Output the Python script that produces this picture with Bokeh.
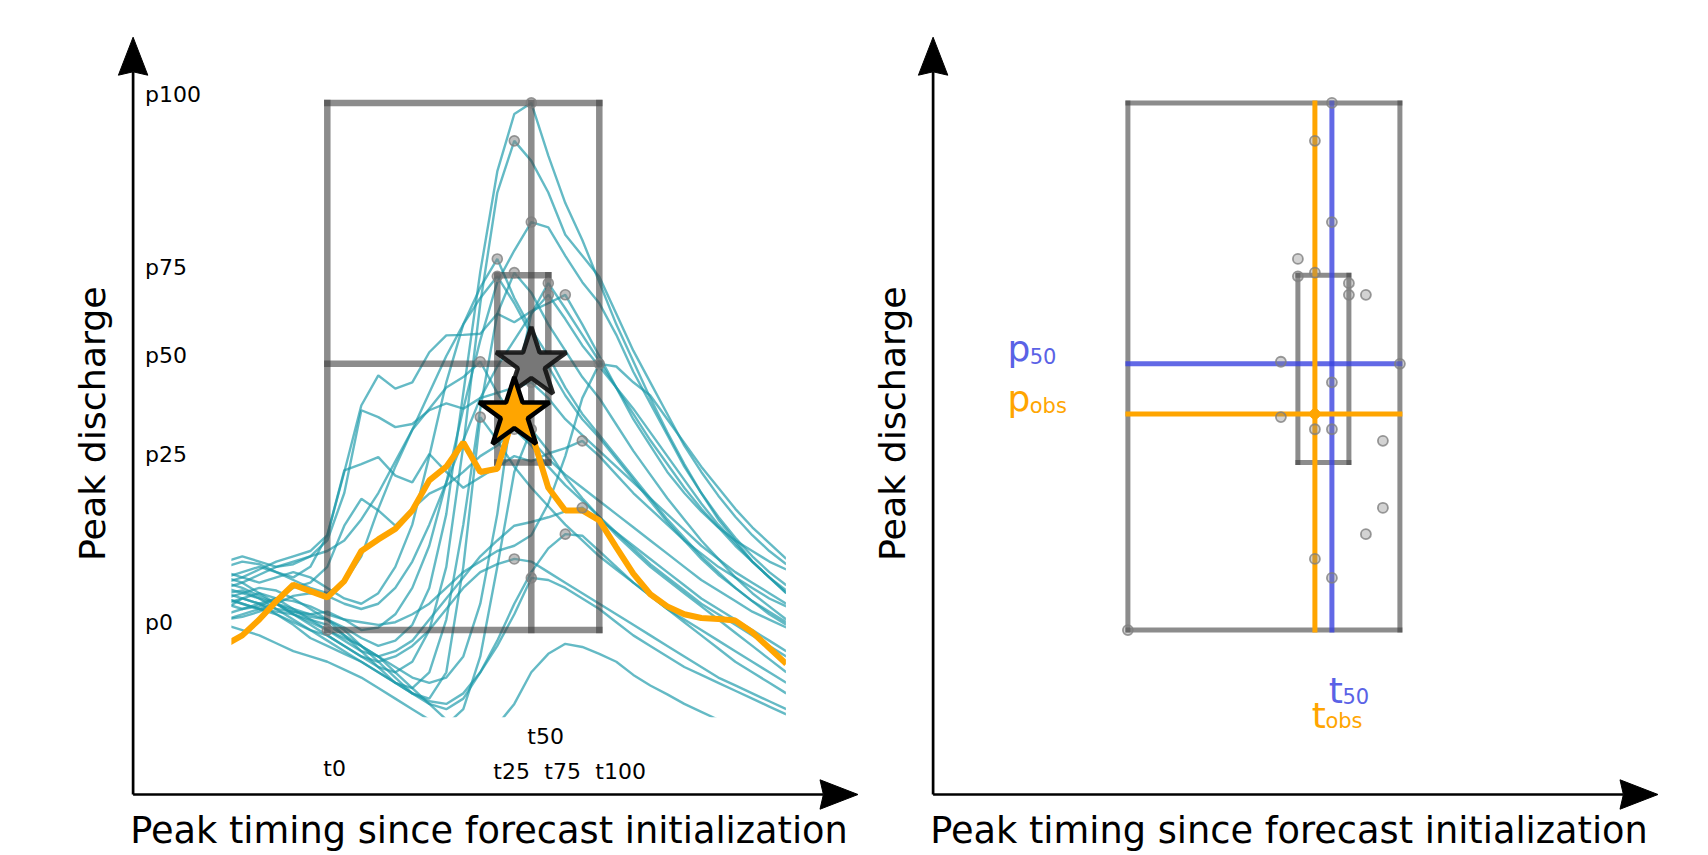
import numpy as np
from bokeh.plotting import figure
from bokeh.layouts import row
from bokeh.models import Range1d
from bokeh.core.properties import value
from bokeh.embed import file_html
from bokeh.resources import INLINE

# ---------------- data ----------------
steps = list(range(-6, 28))  # time steps relative to forecast initialization

m01 = [9, 8, 6.5, 5, 3.5, 2.5, 2, 0.5, -1.5, -3, -2, 1, 8, 22, 45, 68, 87,
       97.9, 100, 90, 81, 74, 66, 58, 51, 44, 37.5, 31.5, 26, 21.5, 17.5, 14, 11, 8.5]
m02 = [7, 7.5, 6, 4, 2, 0, -1, -3, -5, -7, -8, -6, 0, 12, 35, 62, 83,
       92.8, 89, 83, 75, 71, 67, 60, 53, 47, 41, 35, 30, 25.5, 21.5, 18, 15, 12.5]
m03 = [5, 6, 7, 6, 4, 3, 3.5, 2, 0, 0.5, 3, 8, 16, 28, 42, 55, 66,
       72, 77.4, 76.4, 71, 66, 62, 56, 49, 43, 37, 31, 26, 21, 17, 13, 10, 7]
m04 = [11, 10, 9, 10, 11, 10, 8, 6, 5, 7, 12, 20, 33, 47, 58, 65, 70.4,
       63, 57, 52, 46, 41, 37, 33, 29, 25, 21, 17.5, 14, 11, 8, 5.5, 3, 1]
m05 = [4, 6, 5, 3, 1, -1.5, -3, -4.5, -6, -8, -10, -11, -8, 2, 20, 42, 60,
       67.8, 64, 58, 53, 48, 44, 39, 34, 29.5, 25, 21, 17, 13.5, 10, 7, 4.5, 2]
m06 = [8, 9, 10.5, 12, 13, 14, 15, 17, 21, 26, 32, 38, 45, 52, 58, 63, 67.1,
       62, 56, 50, 44.5, 40, 36.5, 32.5, 28.5, 24.5, 20.5, 17, 13.5, 10.5, 8, 5.5, 3.5, 1.5]
m07 = [6, 5, 4, 3.5, 3, 2, 1, -1, -3, -5, -7, -9, -10, -9, -5, 5, 22,
       45, 60, 65.8, 61, 56, 51, 46, 41, 36, 31.5, 27, 23, 19.5, 16, 13, 10, 7.5]
m08 = [2, 2.5, 3.5, 5, 6.5, 7, 6.5, 5, 4, 5, 8, 13, 20, 28, 36, 44, 50,
       55, 60, 63.6, 59, 54, 50, 46, 42, 37.5, 33, 28.5, 24, 20, 16.5, 13, 10, 7]
m09 = [12, 13, 12.5, 11, 10, 12, 18, 30, 42.6, 48.3, 45.8, 47, 52.7, 55.9, 56, 56.2, 60,
       58.4, 60.5, 62, 63.6, 58, 52, 46, 40, 35, 30, 26, 22.5, 19.5, 17, 15, 13, 11.5]
m10 = [10, 11, 12, 11, 9.5, 8, 7, 9, 14, 23, 31, 38, 42, 46, 48, 50.9, 45,
       40, 36, 32.5, 29.5, 27, 24.5, 22, 19.5, 17, 14.5, 12, 9.5, 7.5, 5.5, 3.5, 2, 0.5]
m11 = [3, 4, 5, 6, 5.5, 4.5, 3, 2, 1.5, 1, 1.5, 3, 5, 8, 11, 13, 15,
       16, 18, 24, 33, 44, 50.5, 50, 47, 44.5, 40, 35.5, 31, 27, 23, 19.5, 16.5, 13.5]
m12 = [13, 14, 13, 12, 12.5, 14, 17, 26, 41.7, 40.4, 38.5, 39.1, 41.7, 43, 42, 44, 45,
       46, 47, 44, 40, 37, 34, 31, 28, 25, 22, 19, 16, 13.5, 11, 9, 7, 5]
m13 = [6, 7, 8, 7.5, 6, 4, 2, -1, -4, -7, -10, -12, -13, -8, 12, 40.4, 36,
       31, 27, 23.5, 20, 17, 14, 11.5, 9, 6.5, 4, 2, 0, -2, -4, -6, -8, -10]
m14 = [5, 4, 4.5, 6, 8, 9, 12, 19.8, 24.9, 22.7, 19.8, 23, 25.9, 27.4, 30, 33, 35,
       38.1, 35, 31, 27.5, 24.5, 21.5, 18, 15, 12, 9.5, 7, 4.5, 2, -0.5, -3, -5.5, -8]
m15 = [1, 0, -1, -2.5, -4, -5, -6, -7.5, -9, -11, -13, -15, -17, -18, -15, -5, 12,
       30, 38.1, 34, 29, 25, 21.5, 18.5, 15.5, 12.5, 10, 7.5, 5, 3, 1, -1, -3, -5]
m16 = [9, 10, 11.5, 13, 14, 15, 18, 30.3, 31.5, 32.8, 29.3, 28, 33.4, 30, 27, 29, 31,
       33, 32, 33.5, 34.5, 35.9, 33, 29.5, 26, 23, 20, 17, 14.5, 12, 10, 8, 6, 4.5]
m17 = [2, 3, 4, 5, 4, 2, 0, -2, -4, -5, -4, -2, 2, 6, 10, 14, 17,
       19.8, 20.5, 21.4, 22.5, 23.2, 21, 18.5, 16, 13.5, 11, 8.5, 6, 4, 2, 0, -2, -4]
m18 = [7, 6, 5, 4, 3.5, 3, 2, 0, -3, -6, -9, -12, -14, -15, -13, -8, -2,
       5, 11, 15.5, 18.2, 17.9, 15, 12, 9, 6.5, 4, 1.5, -1, -3.5, -6, -8, -10, -12]
m19 = [10, 9, 7, 5, 3, 1, -1, -3, -5, -6, -5, -3, 0, 4, 8, 11, 12.5,
       13.5, 13, 11, 9, 7, 5, 3, 1, -1, -3, -5, -7, -9, -10.5, -12, -13.5, -15]
m20 = [6, 5, 4, 3, 1.5, 0, -2, -4, -6, -8, -10, -12, -13.5, -14, -12, -8, -3,
       3, 9.9, 9.5, 8, 6, 4, 1.5, -1, -3, -5, -7, -8.5, -10, -11.5, -13, -14.5, -16]
m21 = [8, 7, 6, 5, 3, 1.5, 0, -1.5, -3, -5, -8, -11, -14, -17, -19, -20, -18,
       -14, -8, -4.5, -2.6, -3.2, -4.5, -6, -8.5, -10.5, -12.2, -14, -15.5, -17, -18.5, -20, -21, -22]

observed = [-2.8, -1, 2, 5.5, 8.6, 7.4, 6.2, 9.3, 15, 17.2, 19.2, 22.7, 28.4, 31, 35.6, 30, 30.6,
            41, 37.5, 27, 22.7, 22.7, 20.8, 15.7, 10.7, 6.8, 4.5, 3, 2.3, 2.1, 1.8, -0.4, -3.4, -6.4]

pct_names = ["0", "25", "50", "75", "100"]
time_pct = [0, 10, 12, 13, 16]          # t0, t25, t50, t75, t100
flow_pct = [0, 31.8, 50.5, 67.3, 100]   # p0, p25, p50, p75, p100

ensemble = [m01, m02, m03, m04, m05, m06, m07, m08, m09, m10, m11,
            m12, m13, m14, m15, m16, m17, m18, m19, m20, m21]

# peaks after forecast initialization
steps_arr = np.array(steps)
after = steps_arr >= 0
peak_t, peak_q = [], []
for m in ensemble:
    a = np.where(after, np.array(m, dtype=float), -np.inf)
    i = int(np.argmax(a))
    peak_t.append(steps[i])
    peak_q.append(m[i])
oa = np.where(after, np.array(observed, dtype=float), -np.inf)
io = int(np.argmax(oa))
t_obs, q_obs = steps[io], observed[io]
t50, q50 = time_pct[2], flow_pct[2]

# ---------------- styling / layout ----------------
W1, W2, H = 866, 842, 855
SHIFT2 = -66.0          # pixel shift of the right panel's decorations
SX, SY, QY0 = 17.0, 5.272, 629.6
FONT = value("DejaVu Sans")
TEAL = "#1b9aaa"
ORANGE = "#ffa500"
BLUE = "#3b44e0"
BLUE_TXT = "#5a62e6"
BOXC = "#404040"
MID = 0.3   # distance (in em) from the baseline to the text middle


def panel(width, k0):
    p = figure(width=width, height=H,
               x_range=Range1d(-k0 / SX, (width - k0) / SX),
               y_range=Range1d((QY0 - H) / SY, QY0 / SY),
               x_axis_type=None, y_axis_type=None,
               output_backend="svg", toolbar_location=None,
               min_border=0, min_border_left=0, min_border_right=0,
               min_border_top=0, min_border_bottom=0)
    p.outline_line_color = None
    p.background_fill_color = "white"
    p.border_fill_color = "white"
    fx = lambda px: (px - k0) / SX
    fy = lambda py: (QY0 - py) / SY
    return p, fx, fy


def draw_box(p, lw, median):
    t0, t25, tm, t75, t100 = time_pct
    q0, q25, qm, q75, q100 = flow_pct
    x0 = [t0, t100, t0, t0, t25, t75, t25, t25]
    y0 = [q0, q0, q0, q100, q25, q25, q25, q75]
    x1 = [t0, t100, t100, t100, t25, t75, t75, t75]
    y1 = [q100, q100, q0, q100, q75, q75, q25, q75]
    if median:
        x0 += [tm, t0]; y0 += [q0, qm]; x1 += [tm, t100]; y1 += [q100, qm]
    p.segment(x0=x0, y0=y0, x1=x1, y1=y1, line_color=BOXC, line_alpha=0.6,
              line_width=lw, line_cap="square")


def draw_axes(p, fx, fy, dx):
    ox, oy = 132.6 + dx, 794.0
    ytip, xtip = 36.7, 857.5 + dx
    L, HW, N = 38.0, 14.7, 3.4
    p.line([fx(ox), fx(ox)], [fy(oy), fy(ytip + L - N)], line_color="black", line_width=2.7)
    p.line([fx(ox), fx(xtip - L + N)], [fy(oy), fy(oy)], line_color="black", line_width=2.7)
    p.patch([fx(ox), fx(ox + HW), fx(ox), fx(ox - HW)],
            [fy(ytip), fy(ytip + L), fy(ytip + L - N), fy(ytip + L)],
            fill_color="black", line_color="black", line_width=1)
    p.patch([fx(xtip), fx(xtip - L), fx(xtip - L + N), fx(xtip - L)],
            [fy(oy), fy(oy - HW), fy(oy), fy(oy + HW)],
            fill_color="black", line_color="black", line_width=1)
    p.text(x=[fx(488.5 + dx)], y=[fy(841 - MID * 36.7)],
           text=["Peak timing since forecast initialization"],
           text_font=FONT, text_font_size=value("36.7px"), text_align="center",
           text_baseline="middle", text_color="black")
    p.text(x=[fx(102.4 + dx - MID * 36)], y=[fy(423.2)], text=["Peak discharge"], angle=np.pi / 2,
           text_font=FONT, text_font_size=value("36.3px"), text_align="center",
           text_baseline="middle", text_color="black")


# ---------------- left panel ----------------
p1, fx1, fy1 = panel(W1, 326.8)
p1.multi_line(xs=[steps] * len(ensemble), ys=ensemble, line_color=TEAL,
              line_alpha=0.68, line_width=2.4)
draw_box(p1, 6.5, True)
p1.line(steps, observed, line_color=ORANGE, line_width=6)
# clip window of the hydrographs
big = 1000
p1.quad(left=[-big, fx1(785.4), -big], right=[fx1(230.9), big, big],
        bottom=[-big, -big, -big], top=[big, big, fy1(716.8)],
        fill_color="white", line_color=None)
p1.scatter(peak_t, peak_q, size=10, fill_color="#808080", fill_alpha=0.5,
           line_color="#808080", line_alpha=0.8, line_width=1.6)
p1.scatter([t50], [q50], marker="star", size=74, fill_color="#777777",
           line_color="#111111", line_alpha=0.9, line_width=4.5)
p1.scatter([t_obs], [q_obs], marker="star", size=74, fill_color=ORANGE,
           line_color="black", line_width=4.5)
p1.text(x=[fx1(144.6)] * 5, y=flow_pct, text=["p" + n for n in pct_names],
        y_offset=-1.5 - MID * 22, text_font=FONT, text_font_size=value("22px"),
        text_align="left", text_baseline="middle", text_color="black")
p1.text(x=time_pct, y=[fy1(b - MID * 22) for b in (775, 778, 743, 778, 778)],
        text=["t" + n for n in pct_names], x_offset=-4,
        text_font=FONT, text_font_size=value("22px"),
        text_align="left", text_baseline="middle", text_color="black")
draw_axes(p1, fx1, fy1, 0.0)

# ---------------- right panel ----------------
p2, fx2, fy2 = panel(W2, 327.4 + SHIFT2)
draw_box(p2, 5, False)
t0, t100 = time_pct[0], time_pct[4]
q0, q100 = flow_pct[0], flow_pct[4]
p2.segment(x0=[t0, t50], y0=[q50, q0], x1=[t100, t50], y1=[q50, q100],
           line_color=BLUE, line_alpha=0.8, line_width=5, line_cap="square")
p2.segment(x0=[t0, t_obs], y0=[q_obs, q0], x1=[t100, t_obs], y1=[q_obs, q100],
           line_color=ORANGE, line_width=5, line_cap="square")
p2.scatter([t_obs], [q_obs], size=10, fill_color=ORANGE, line_color=ORANGE)
p2.scatter(peak_t, peak_q, size=10, fill_color="#808080", fill_alpha=0.35,
           line_color="#808080", line_alpha=0.8, line_width=1.8)
# labels p50 / pobs
p2.text(x=[t0, t0], y=[q50, q_obs], text=["p", "p"], x_offset=-120.4, y_offset=-4.5 - MID * 36,
        text_font=FONT, text_font_size=value("36px"), text_align="left",
        text_baseline="middle", text_color=[BLUE_TXT, ORANGE])
p2.text(x=[t0, t0], y=[q50, q_obs], text=["50", "obs"], x_offset=-98.2, y_offset=-1.5 - MID * 21,
        text_font=FONT, text_font_size=value("21px"), text_align="left",
        text_baseline="middle", text_color=[BLUE_TXT, ORANGE])
# labels t50 / tobs
p2.text(x=[t50, t_obs], y=[fy2(701 - MID * 36), fy2(725.5 - MID * 36)], text=["t", "t"],
        x_offset=-3.2, text_font=FONT, text_font_size=value("36px"), text_align="left",
        text_baseline="middle", text_color=[BLUE_TXT, ORANGE])
p2.text(x=[t50, t_obs], y=[fy2(702 - MID * 21), fy2(727 - MID * 21)], text=["50", "obs"],
        x_offset=10.5, text_font=FONT, text_font_size=value("21px"), text_align="left",
        text_baseline="middle", text_color=[BLUE_TXT, ORANGE])
draw_axes(p2, fx2, fy2, SHIFT2)

layout = row(p1, p2)
open("out.html", "w").write(file_html(layout, INLINE))
